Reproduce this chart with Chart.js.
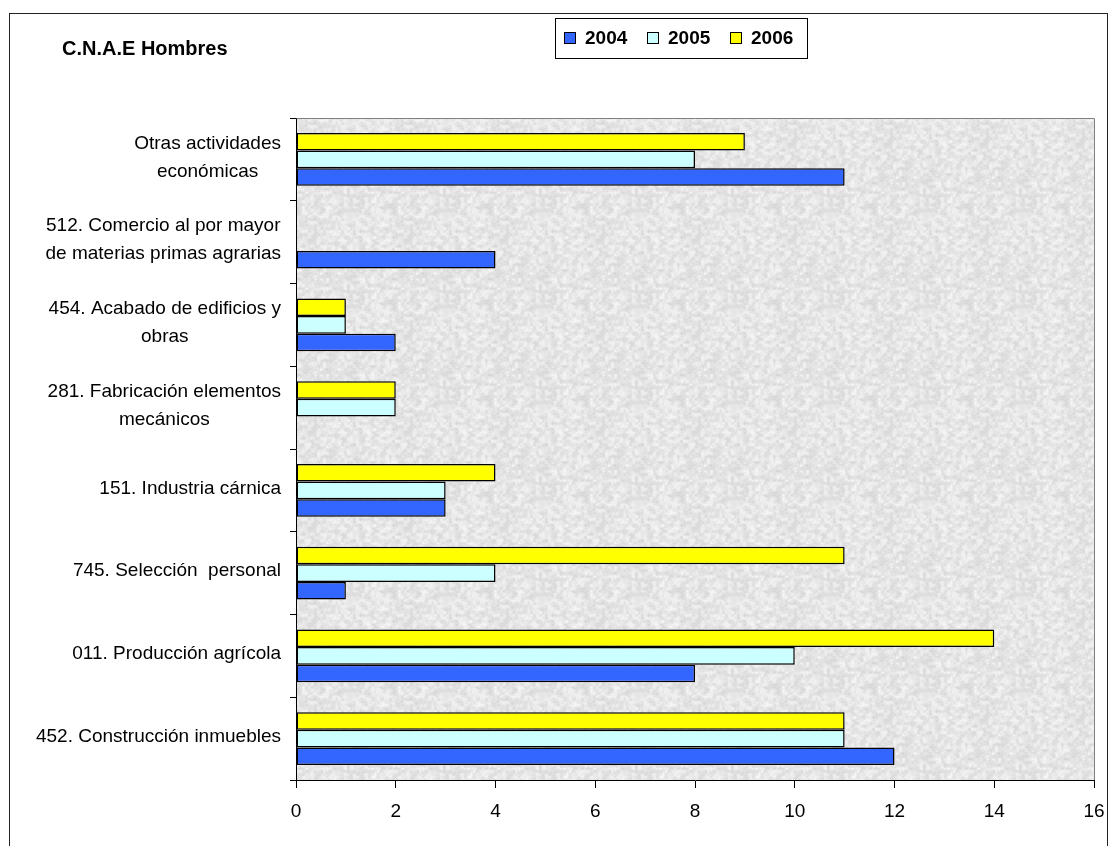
<!DOCTYPE html>
<html>
<head>
<meta charset="utf-8">
<script src="https://cdn.jsdelivr.net/npm/chart.js@4.4.1/dist/chart.umd.min.js"></script>
<style>
  html, body { margin: 0; padding: 0; background: #ffffff; }
  #wrap { width: 1109px; height: 846px; position: relative; }
  canvas { display: block; }
</style>
</head>
<body>
<div id="wrap"><canvas id="chart" width="1109" height="846"></canvas></div>
<script>
// Categories, top to bottom
const categories = [
  ['Otras actividades', 'económicas'],
  ['512. Comercio al por mayor', 'de materias primas agrarias'],
  ['454. Acabado de edificios y', 'obras'],
  ['281. Fabricación elementos', 'mecánicos'],
  ['151. Industria cárnica'],
  ['745. Selección  personal'],
  ['011. Producción agrícola'],
  ['452. Construcción inmuebles']
];

const years = ['2004', '2005', '2006'];
const v2004 = [11, 4, 2, 0, 3, 1, 8, 12];
const v2005 = [8, 0, 1, 2, 3, 4, 10, 11];
const v2006 = [9, 0, 1, 2, 4, 11, 14, 11];

const xTickValues = [0, 2, 4, 6, 8, 10, 12, 14, 16];
const chartTitle = 'C.N.A.E Hombres';

const yearColors = { '2004': '#3366FF', '2005': '#CCFFFF', '2006': '#FFFF00' };
const FONT = '"Liberation Sans", Arial, sans-serif';

// Within each group the latest year sits on top, so datasets run 2006 -> 2004
const seriesByYear = { '2004': v2004, '2005': v2005, '2006': v2006 };
const datasets = years.slice().reverse().map(y => ({
  label: y,
  data: seriesByYear[y],
  backgroundColor: yearColors[y],
  borderColor: '#000000',
  borderWidth: 1.5,
  borderSkipped: false
}));

// Light granite-like fill for the plot area
function makeGranite() {
  const s = 96, cell = 3, n = s / cell;
  const cv = document.createElement('canvas');
  cv.width = cv.height = s;
  const g = cv.getContext('2d');
  const img = g.createImageData(s, s);
  const hash = (x, y) => {
    let h = (x * 374761393 + y * 668265263) | 0;
    h = Math.imul(h ^ (h >>> 13), 1274126177);
    return ((h ^ (h >>> 16)) >>> 0) / 4294967295;
  };
  const coarse = (x, y) => {
    const gx = x / cell, gy = y / cell;
    const x0 = Math.floor(gx), y0 = Math.floor(gy);
    const fx = gx - x0, fy = gy - y0;
    const a = hash(x0 % n, y0 % n), b = hash((x0 + 1) % n, y0 % n);
    const c = hash(x0 % n, (y0 + 1) % n), d = hash((x0 + 1) % n, (y0 + 1) % n);
    return (a * (1 - fx) + b * fx) * (1 - fy) + (c * (1 - fx) + d * fx) * fy;
  };
  for (let y = 0; y < s; y++) {
    for (let x = 0; x < s; x++) {
      const v = 230 + (coarse(x, y) - 0.5) * 30 + (hash(x + 500, y + 900) - 0.5) * 12;
      const i = (y * s + x) * 4;
      const c = Math.max(0, Math.min(255, Math.round(v)));
      img.data[i] = c; img.data[i + 1] = c; img.data[i + 2] = c; img.data[i + 3] = 255;
    }
  }
  g.putImageData(img, 0, 0);
  return cv;
}

const decorPlugin = {
  id: 'decor',
  beforeDraw(chart) {
    const { ctx, chartArea: a } = chart;
    ctx.save();
    ctx.fillStyle = '#ffffff';
    ctx.fillRect(0, 0, chart.width, chart.height);
    // outer frame
    ctx.strokeStyle = '#222222';
    ctx.lineWidth = 1;
    ctx.strokeRect(9.5, 13.5, 1098, 900);
    // plot background
    ctx.fillStyle = ctx.createPattern(makeGranite(), 'repeat');
    ctx.fillRect(a.left, a.top, a.right - a.left, a.bottom - a.top);
    ctx.restore();
  },
  afterDraw(chart) {
    const { ctx, chartArea: a, scales } = chart;
    ctx.save();
    // grey top and right edges of the plot
    ctx.strokeStyle = '#808080';
    ctx.lineWidth = 1;
    ctx.beginPath();
    ctx.moveTo(Math.round(a.left) + 0.5, Math.round(a.top) + 0.5);
    ctx.lineTo(Math.round(a.right) + 0.5, Math.round(a.top) + 0.5);
    ctx.lineTo(Math.round(a.right) + 0.5, Math.round(a.bottom));
    ctx.stroke();

    // title
    ctx.fillStyle = '#000000';
    ctx.font = 'bold 20px ' + FONT;
    ctx.textAlign = 'left';
    ctx.textBaseline = 'alphabetic';
    ctx.fillText(chartTitle, 62, 55);

    // category labels: each block centred on itself, right edge at the axis
    const ys = scales.y;
    ctx.font = '19px ' + FONT;
    ctx.textBaseline = 'middle';
    ctx.textAlign = 'center';
    const lineH = 28;
    const right = a.left - 15;
    chart.data.labels.forEach((lab, i) => {
      const lines = Array.isArray(lab) ? lab : [lab];
      const w = Math.max(...lines.map(l => ctx.measureText(l).width));
      const cx = right - w / 2;
      const cy = ys.getPixelForValue(i) - 2;
      const top = cy - (lines.length - 1) * lineH / 2;
      lines.forEach((l, k) => ctx.fillText(l, cx, top + k * lineH));
    });

    // legend in year order
    const bx = 555, by = 18, bw = 252, bh = 40;
    ctx.fillStyle = '#ffffff';
    ctx.fillRect(bx, by, bw, bh);
    ctx.strokeStyle = '#000000';
    ctx.strokeRect(bx + 0.5, by + 0.5, bw, bh);
    ctx.font = 'bold 19px ' + FONT;
    ctx.textAlign = 'left';
    ctx.textBaseline = 'middle';
    const legendItems = chart.data.datasets.slice().reverse();
    legendItems.forEach((ds, i) => {
      const sx = 564 + i * 83;
      ctx.fillStyle = ds.backgroundColor;
      ctx.fillRect(sx, 32, 11, 11);
      ctx.strokeStyle = '#000000';
      ctx.strokeRect(sx + 0.5, 32.5, 11, 11);
      ctx.fillStyle = '#000000';
      ctx.fillText(ds.label, sx + 21, 38.5);
    });
    ctx.restore();
  }
};

new Chart(document.getElementById('chart'), {
  type: 'bar',
  data: { labels: categories, datasets },
  options: {
    indexAxis: 'y',
    responsive: false,
    animation: false,
    devicePixelRatio: 1,
    layout: { padding: { top: 118, right: 15, left: 0, bottom: 0 } },
    datasets: { bar: { categoryPercentage: 0.64, barPercentage: 1.0 } },
    plugins: { legend: { display: false }, title: { display: false }, tooltip: { enabled: false } },
    scales: {
      x: {
        min: xTickValues[0],
        max: xTickValues[xTickValues.length - 1],
        afterBuildTicks(scale) { scale.ticks = xTickValues.map(v => ({ value: v })); },
        afterFit(scale) { scale.height = 66; scale.paddingLeft = 0; scale.paddingRight = 0; },
        grid: { display: true, drawOnChartArea: false, drawTicks: true, tickLength: 8, color: '#000000' },
        border: { display: true, color: '#000000', width: 1 },
        ticks: { color: '#000000', font: { family: FONT, size: 19 }, padding: 12, maxRotation: 0 }
      },
      y: {
        afterFit(scale) { scale.width = 296; scale.paddingTop = 0; scale.paddingBottom = 0; },
        grid: { display: true, drawOnChartArea: false, drawTicks: true, tickLength: 6, color: '#000000', offset: true },
        border: { display: true, color: '#000000', width: 1 },
        ticks: { display: false }
      }
    }
  },
  plugins: [decorPlugin]
});
</script>
</body>
</html>
